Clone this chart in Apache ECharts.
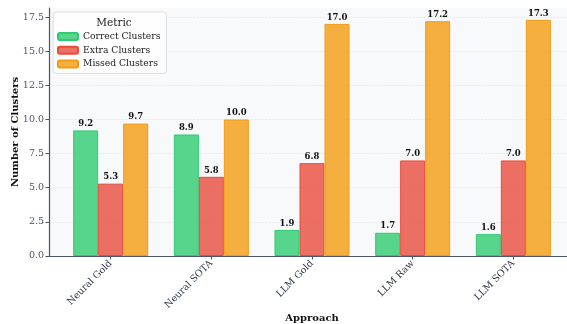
<!DOCTYPE html>
<html><head><meta charset="utf-8">
<script src="https://cdn.jsdelivr.net/npm/echarts@6/dist/echarts.min.js"></script>
<style>html,body{margin:0;padding:0;background:#fff}#c{width:567px;height:324px}</style>
</head><body><div id="c"></div>
<script>
const categories = ['Neural Gold', 'Neural SOTA', 'LLM Gold', 'LLM Raw', 'LLM SOTA'];
const correctClusters = [9.2, 8.9, 1.9, 1.7, 1.6];
const extraClusters = [5.3, 5.8, 6.8, 7.0, 7.0];
const missedClusters = [9.7, 10.0, 17.0, 17.2, 17.3];
const seriesNames = ['Correct Clusters', 'Extra Clusters', 'Missed Clusters'];
const yTicks = [0, 2.5, 5, 7.5, 10, 12.5, 15, 17.5];

const FONT = '"DejaVu Serif", serif';
const colors = ['#2ecc71', '#e74c3c', '#f39c12'];
const fills = ['rgba(46,204,113,0.8)', 'rgba(231,76,60,0.8)', 'rgba(243,156,18,0.8)'];
const allVals = [correctClusters, extraClusters, missedClusters];
const ymax = Math.max(...missedClusters) * 1.05;

const chart = echarts.init(document.getElementById('c'), null, {renderer: 'canvas'});
chart.setOption({
  animation: false,
  textStyle: {fontFamily: FONT},
  grid: {left: 49, right: -8, top: 8, bottom: 68, show: true, backgroundColor: '#f8f9fa', borderWidth: 0,
    outerBoundsMode: 'none', containLabel: false},
  title: {text: 'Metric', left: 109, top: 13, textAlign: 'center',
    textStyle: {fontFamily: FONT, fontSize: 10.5, fontWeight: 'normal', color: '#222'}},
  legend: {
    orient: 'vertical', left: 53, top: 12,
    padding: [19, 6, 4, 4],
    itemWidth: 20, itemHeight: 7, itemGap: 2.7,
    backgroundColor: 'rgba(255,255,255,0.8)', borderColor: '#dcdcdc', borderWidth: 1, borderRadius: 3,
    textStyle: {fontFamily: FONT, fontSize: 9.2, color: '#222', lineHeight: 11},
    data: seriesNames
  },
  xAxis: {
    type: 'value', min: -0.6125, max: 4.6125,
    splitLine: {show: false},
    axisLine: {show: true, onZero: false, lineStyle: {color: '#4a5568', width: 1.2}},
    axisTick: {show: true, customValues: [0, 1, 2, 3, 4], length: 3.5, lineStyle: {color: '#4a5568'}},
    axisLabel: {customValues: [0, 1, 2, 3, 4], rotate: 45, fontFamily: FONT, fontSize: 9.5, color: '#2d3748', margin: 6,
      formatter: v => categories[Math.round(v)]},
    name: 'Approach', nameLocation: 'middle', nameGap: 57, nameMoveOverlap: false,
    nameTextStyle: {fontFamily: FONT, fontSize: 10, fontWeight: 'bold', color: '#111'}
  },
  yAxis: {
    type: 'value', min: 0, max: ymax, interval: 2.5,
    axisLine: {show: true, onZero: false, lineStyle: {color: '#4a5568', width: 1.2}},
    axisTick: {show: true, length: 3.5, lineStyle: {color: '#4a5568'}},
    axisLabel: {fontFamily: FONT, fontSize: 9.5, color: '#4a5568', margin: 5, showMaxLabel: false,
      formatter: v => yTicks.includes(v) ? v.toFixed(1) : ''},
    splitLine: {show: true, showMaxLine: false, showMinLine: false, lineStyle: {color: '#e2e4e8', type: 'dashed', width: 0.6}},
    name: 'Number of Clusters', nameLocation: 'middle', nameGap: 29, nameMoveOverlap: false,
    nameTextStyle: {fontFamily: FONT, fontSize: 10, fontWeight: 'bold', color: '#111'}
  },
  series: seriesNames.map((n, s) => ({
    name: n, type: 'bar', barWidth: 25, barGap: '0%',
    itemStyle: {color: fills[s], borderColor: colors[s], borderWidth: 1},
    label: {show: true, position: 'top', distance: 2, fontFamily: FONT, fontSize: 8.5, fontWeight: 'bold', color: '#111',
      formatter: p => p.value[1].toFixed(1)},
    data: allVals[s].map((v, i) => [i, v])
  }))
});
</script></body></html>
